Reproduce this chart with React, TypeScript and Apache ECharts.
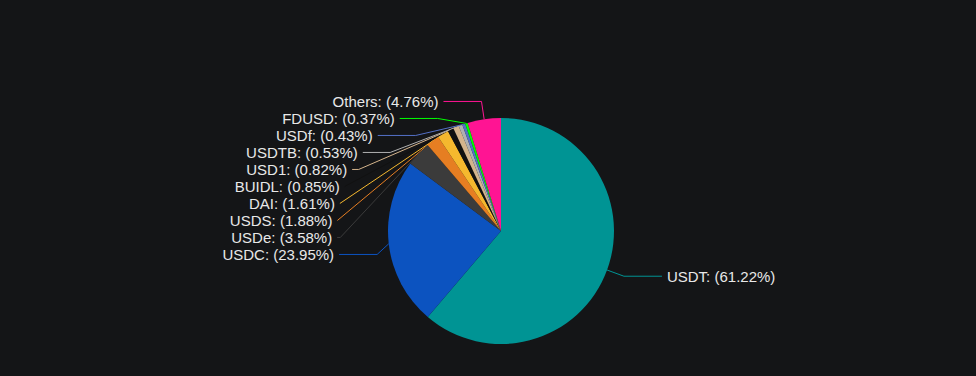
import React, { useEffect, useRef } from "react";
import * as echarts from "echarts";

const names = ["USDT", "USDC", "USDe", "USDS", "DAI", "BUIDL", "USD1", "USDTB", "USDf", "FDUSD", "Others"];
const values = [61.22, 23.95, 3.58, 1.88, 1.61, 0.85, 0.82, 0.53, 0.43, 0.37, 4.76];
const colors = ["#009494", "#0c53c0", "#3b3b3b", "#e67e22", "#f5b82e", "#111111", "#d4b48c", "#b0b0b0", "#5470c6", "#00ff00", "#ff1493"];

export default function App() {
  const ref = useRef<HTMLDivElement>(null);
  useEffect(() => {
    document.body.style.margin = "0";
    document.body.style.background = "#141517";
    const chart = echarts.init(ref.current!, undefined, { renderer: "svg" });
    chart.setOption({
      animation: false,
      backgroundColor: "#141517",
      series: [
        {
          type: "pie",
          center: [501, 231],
          radius: 113,
          startAngle: 90,
          clockwise: true,
          itemStyle: { borderWidth: 0 },
          label: {
            show: true,
            color: "#e8e8e8",
            fontSize: 15,
            fontFamily: "Liberation Sans, Arial, sans-serif",
            formatter: (p: any) => `${p.name}: (${p.value.toFixed(2)}%)`,
          },
          labelLine: { show: true, length: 18, length2: 38, lineStyle: { width: 1 } },
          data: names.map((n, i) => ({ name: n, value: values[i], itemStyle: { color: colors[i] } })),
        },
      ],
    });
    return () => chart.dispose();
  }, []);
  return <div ref={ref} style={{ width: 976, height: 376 }} />;
}
